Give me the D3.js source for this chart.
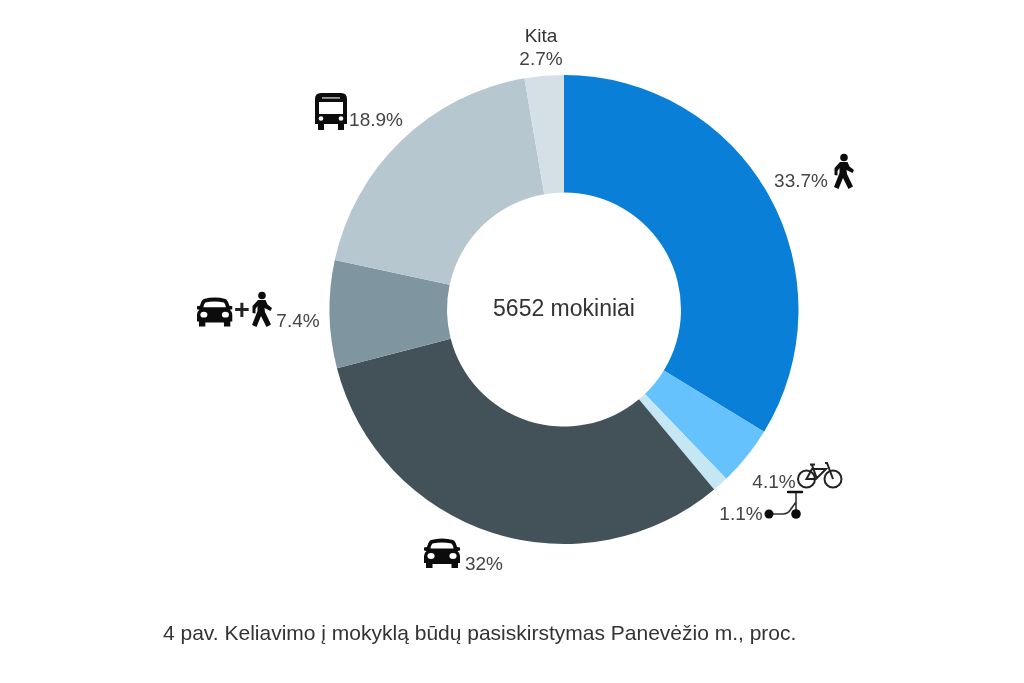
<!DOCTYPE html>
<html><head><meta charset="utf-8">
<script src="https://cdn.jsdelivr.net/npm/d3@7/dist/d3.min.js"></script>
<style>html,body{margin:0;padding:0;background:#fff}svg{display:block;filter:blur(0.4px)}text{font-family:"Liberation Sans",Arial,sans-serif}</style>
</head><body><svg id="c" width="1024" height="683"></svg>
<script>
const categories=["Pėsčiomis","Dviračiu","Paspirtuku","Automobiliu","Automobiliu + pėsčiomis","Autobusu","Kita"];
const values=[33.7,4.1,1.1,32,7.4,18.9,2.7];
const labels=["33.7%","4.1%","1.1%","32%","7.4%","18.9%","2.7%"];
const colors=["#0a7fd8","#66c2fd","#c5e6f3","#435259","#7f959f","#b6c7d0","#d5e0e6"];
const centerText="5652 mokiniai";
const caption="4 pav. Keliavimo į mokyklą būdų pasiskirstymas Panevėžio m., proc.";
const labelPos=[[801,180],[774,481],[741,513],[484,563.5],[298,320],[376,119],[541,58]];

const svg=d3.select("#c");
const cx=564,cy=309.5;
const pie=d3.pie().sort(null).value(d=>d)(values);
const arc=d3.arc().innerRadius(117).outerRadius(234.5);
const g=svg.append("g").attr("transform",`translate(${cx},${cy})`);
g.selectAll("path").data(pie).join("path").attr("d",arc).attr("fill",(d,i)=>colors[i]);
g.append("text").attr("text-anchor","middle").attr("y",6).attr("font-size",23).attr("fill","#333").text(centerText);

svg.selectAll("text.l").data(labels).join("text").attr("class","l")
  .attr("x",(d,i)=>labelPos[i][0]).attr("y",(d,i)=>labelPos[i][1]+6.5)
  .attr("text-anchor","middle").attr("font-size",19).attr("fill","#444").text(d=>d);
svg.append("text").attr("x",541).attr("y",42).attr("text-anchor","middle").attr("font-size",19).attr("fill","#333").text("Kita");
svg.append("text").attr("x",163).attr("y",640).attr("font-size",21).attr("fill","#333").text(caption);

const K="#0c0c0c";
function walker(x,y){
  const t=svg.append("g").attr("transform",`translate(${x},${y})`).attr("fill",K);
  t.append("circle").attr("cx",10).attr("cy",3.5).attr("r",3.8);
  t.append("path").attr("d","M6 8 L13.5 8 L15.5 12.5 L20 16 L18.5 19 L12.5 16 L13 20 L19 32.5 L14.5 35 L9 24 L4.5 35 L0 33 L5.5 19 L5.5 14 L3.5 17 L3.5 21.5 L0.5 21 L0.5 14 Z");
}
function car(x,y,s){
  const t=svg.append("g").attr("transform",`translate(${x},${y}) scale(${s})`);
  t.append("path").attr("fill",K).attr("fill-rule","evenodd").attr("d","M7 0 Q18 -3 29 0 Q31.5 1 33 7 L36 7.5 L36 10.5 L33.5 11 Q36 13 36 16 L36 23 L34 23 L34 28 L27.5 28 L27.5 24 L8.5 24 L8.5 28 L2 28 L2 23 L0 23 L0 16 Q0 13 2.5 11 L0 10.5 L0 7.5 L3 7 Q4.5 1 7 0 Z M8.5 3.5 Q7 5 6.5 8.5 L29.5 8.5 Q29 5 27.5 3.5 Q18 1.5 8.5 3.5 Z");
  t.append("ellipse").attr("cx",7).attr("cy",16).attr("rx",3.6).attr("ry",3).attr("fill","#fff");
  t.append("ellipse").attr("cx",29).attr("cy",16).attr("rx",3.6).attr("ry",3).attr("fill","#fff");
}
function bus(x,y){
  const t=svg.append("g").attr("transform",`translate(${x},${y})`);
  t.append("path").attr("fill",K).attr("fill-rule","evenodd").attr("d","M6 0 H26 Q32 0 32 6 V31 H29 V37 H23 V31 H9 V37 H3 V31 H0 V6 Q0 0 6 0 Z M4 9 V21 H28 V9 Z");
  t.append("rect").attr("x",7).attr("y",4).attr("width",18).attr("height",1.8).attr("fill","#999");
  t.append("circle").attr("cx",6).attr("cy",25.5).attr("r",2.3).attr("fill","#fff");
  t.append("circle").attr("cx",26).attr("cy",25.5).attr("r",2.3).attr("fill","#fff");
}
function bike(x,y){
  const t=svg.append("g").attr("transform",`translate(${x},${y})`).attr("fill","none").attr("stroke","#222").attr("stroke-width",2);
  t.append("circle").attr("cx",9.5).attr("cy",17).attr("r",8.5);
  t.append("circle").attr("cx",36).attr("cy",17).attr("r",8.5);
  t.append("path").attr("d","M9.5 17 L15 7 L29 7 L19 17 Z M13 2.5 L18 2.5 M15 3 L20 17 M28 1 L30 1 L36 17");
}
function scooter(x,y){
  const t=svg.append("g").attr("transform",`translate(${x},${y})`);
  t.append("path").attr("fill","none").attr("stroke","#333").attr("stroke-width",1.6).attr("d","M4 23 H15 Q20 23 23 18 L28 11 M28 23 V1");
  t.append("path").attr("fill","none").attr("stroke","#111").attr("stroke-width",2.4).attr("stroke-linecap","round").attr("d","M20 1 H34");
  t.append("circle").attr("cx",1).attr("cy",23).attr("r",4.5).attr("fill",K);
  t.append("circle").attr("cx",28).attr("cy",23).attr("r",4.8).attr("fill",K);
}
walker(834,154);
car(197,299,0.98);
svg.append("text").attr("x",234).attr("y",319).attr("font-size",27).attr("font-weight","bold").attr("fill","#222").text("+");
walker(252,292);
bus(315,93);
car(424,540,1);
bike(797,462);
scooter(768,491);
</script></body></html>
